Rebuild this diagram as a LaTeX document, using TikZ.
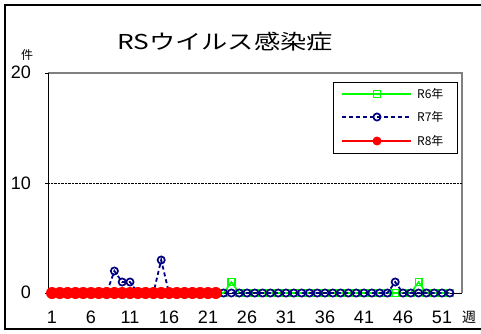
\documentclass[tikz,border=0pt]{standalone}
\usepackage{fontspec}
\setmainfont{Liberation Sans}
\newfontfamily\jp{Noto Sans CJK JP}
\begin{document}
\begin{tikzpicture}[x=1pt,y=1pt]
\useasboundingbox (0,0) rectangle (481,333);
\pgfmathsetmacro\wk{7.8};
\pgfmathsetmacro\unit{11};
\definecolor{sixcol}{RGB}{0,255,0}
\definecolor{sevencol}{RGB}{0,0,128}
\definecolor{eightcol}{RGB}{255,0,0}
\tikzset{
  sixline/.style = {draw = sixcol, line width = 1.6pt},
  sevenline/.style = {draw = sevencol, line width = 1.8pt, dash pattern = on 4pt off 3pt},
  eightline/.style = {draw = eightcol, line width = 2pt},
  sixmark/.style = {draw = sixcol, line width = 1.4pt},
  sevenmark/.style = {draw = sevencol, line width = 1.7pt},
  ticklabel/.style = {font = \fontsize{18}{18}\selectfont, inner sep = 0pt},
  legendlabel/.style = {font = \jp\fontsize{12}{12}\selectfont, anchor = west, inner sep = 0pt}
}
\def\rsix{0,0,0,0,0,0,0,0,0,0,0,0,0,0,0,0,0,0,0,0,0,0,0,1,0,0,0,0,0,0,0,0,0,0,0,0,0,0,0,0,0,0,0,0,0,0,0,1,0,0,0,0}
\def\rseven{0,0,0,0,0,0,0,0,2,1,1,0,0,0,3,0,0,0,0,0,0,0,0,0,0,0,0,0,0,0,0,0,0,0,0,0,0,0,0,0,0,0,0,0,1,0,0,0,0,0,0,0}
% outer frame
\draw[line width = 2pt] (483,328) -- (5,328) -- (5,4) -- (483,4);
% title
\node[font = \jp\fontsize{20.5}{20.5}\selectfont, xscale = 1.28] (title) at (225,291) {RSウイルス感染症};
% plot area
\draw[gray, line width = 1.5pt] (48,260) -- (462,260) -- (462,40);
\draw[densely dotted] (48,150) -- (462,150);
\draw (48,40) -- (462,40);
\draw[line width = 0.8pt] (48,40) -- (48,260);
\foreach \n in {0,10,20} \draw (45,40+\n*\unit) -- (48,40+\n*\unit);
\node[ticklabel, anchor = east] (y0) at (31,41) {0};
\node[ticklabel, anchor = east] (y10) at (31,150) {10};
\node[ticklabel, anchor = east] (y20) at (31,261) {20};
\node[font = \jp\fontsize{12}{12}\selectfont] (ken) at (27,278) {件};
\foreach \n in {1,6,...,51} \node[ticklabel] at (52+\wk*\n-\wk,16) {\n};
\node[font = \jp\fontsize{14}{14}\selectfont] (shu) at (469,16) {週};
% data
\begin{scope}[shift = {(52-\wk,40)}, x = \wk pt, y = \unit pt]
\draw[sixline] (1,0) \foreach \v [count = \w] in \rsix {-- (\w,\v)};
\foreach \v [count = \w] in \rsix \draw[sixmark] (\w,\v) ++(-3.4pt,-3.4pt) rectangle ++(6.8pt,6.8pt);
\draw[sevenline] (1,0) \foreach \v [count = \w] in \rseven {-- (\w,\v)};
\foreach \v [count = \w] in \rseven \draw[sevenmark] (\w,\v) circle[radius = 3.6pt];
\draw[eightline] (1,0) -- (22,0);
\foreach \w in {1,...,22} \fill[eightcol] (\w,0) circle[radius = 6pt];
\end{scope}
% legend
\draw[fill = white, line width = 0.6pt] (333,180) rectangle (457,251);
\draw[sixline] (342,239) -- (411,239);
\draw[sixmark, fill = white] (373.6,235.6) rectangle (380.4,242.4);
\draw[sixline] (373.6,239) -- (380.4,239);
\draw[sevenline] (342,216) -- (411,216);
\draw[sevenmark] (377,216) circle[radius = 3.6pt];
\draw[eightline] (342,192) -- (411,192);
\fill[eightcol] (377,192) circle[radius = 4.5pt];
\node[legendlabel] (lsix) at (417,239) {R6年};
\node[legendlabel] (lseven) at (417,216) {R7年};
\node[legendlabel] (leight) at (417,192) {R8年};
\end{tikzpicture}
\end{document}
